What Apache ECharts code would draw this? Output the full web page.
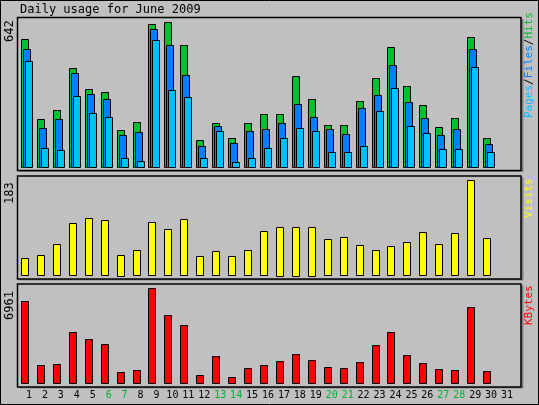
<!DOCTYPE html>
<html><head><meta charset="utf-8">
<script src="https://cdn.jsdelivr.net/npm/echarts@6/dist/echarts.min.js"></script>
<style>html,body{margin:0;padding:0;background:#c0c0c0}#c{width:539px;height:405px}</style>
</head><body><div id="c"></div>
<script>
const days = Array.from({length:31},(_,i)=>String(i+1));
const weekend = ['6','7','13','14','20','21','27','28'];
const hits  = [567,213,253,439,346,332,164,199,634,642,540,120,195,128,195,235,235,403,301,186,186,292,394,532,359,275,177,217,576,128,0];
const files = [523,173,213,416,323,301,142,155,611,540,408,93,182,106,160,168,195,279,222,168,146,261,319,452,288,217,142,168,523,102,0];
const pages = [470,84,75,315,239,222,40,27,563,341,310,40,159,22,40,84,128,173,160,66,66,93,248,350,182,151,80,80,443,66,0];
const visits= [33,39,60,100,110,106,40,48,102,89,108,37,46,37,48,85,94,94,94,69,73,58,48,56,64,83,60,81,183,71,0];
const kbytes= [6008,1319,1392,3737,3224,2857,806,952,6961,4982,4249,586,1978,440,1099,1319,1612,2125,1685,1172,1099,1538,2784,3737,2051,1465,1026,952,5568,879,0];
const maxLabels = ['642','183','6961'];

const font = 'DejaVu Sans Mono';
function barItem(off, w, color){
  return function(params, api){
    const v = api.value(1); if(!v) return;
    const top = api.coord([api.value(0), v]);
    const base = api.coord([api.value(0), 0]);
    return {type:'rect', shape:{x:Math.round(top[0]+off)+0.5, y:Math.round(top[1])+0.5, width:w, height:Math.round(base[1]-top[1])},
      style:{fill:color, stroke:'#000', lineWidth:1}};
  };
}
const grids = [
  {left:21,right:24,top:22.3,height:145},
  {left:21,right:24,top:180.3,height:95},
  {left:21,right:24,top:288.3,height:95}
];
const xAxes = grids.map((g,i)=>({type:'category',gridIndex:i,data:days,boundaryGap:true,
  axisLine:{show:false},axisTick:{show:false},
  axisLabel:{show:i===2,interval:0,margin:7,fontFamily:font,fontSize:10,
    color:(v)=>weekend.includes(v)?'#00b030':'#000'}}));
const yMax=[642,183,6961];
const yAxes = grids.map((g,i)=>({type:'value',gridIndex:i,min:0,max:yMax[i],show:false,splitLine:{show:false}}));
function ser(i,data,item){return {type:'custom',xAxisIndex:i,yAxisIndex:i,data:data.map((v,k)=>[k,v]),renderItem:item,silent:true};}
const series=[
  ser(0,hits,barItem(-8,7,'#00c030')),
  ser(0,files,barItem(-6,7,'#0080ff')),
  ser(0,pages,barItem(-4,7,'#00c0ff')),
  ser(1,visits,barItem(-8,7,'#ffff00')),
  ser(2,kbytes,barItem(-8,7,'#ff0000'))
];
function frame(y,h){return [
  {type:'rect',z:-1,shape:{x:19.5,y:y+1.5,width:504,height:h},style:{fill:'#808080'}},
  {type:'rect',z:-1,shape:{x:17.5,y:y,width:503.5,height:h},style:{fill:'#c0c0c0',stroke:'#000',lineWidth:1.5}}];}
const graphic=[
  {type:'rect',z:-2,shape:{x:0.5,y:0.5,width:538,height:404},style:{fill:'#c0c0c0',stroke:'#000',lineWidth:1}},
  ...frame(17.5,153),...frame(176,103),...frame(284,103),
  {type:'text',x:20,y:4,style:{text:'Daily usage for June 2009',font:'12px '+font,fill:'#000'}},
  {type:'text',x:4,y:42,rotation:Math.PI/2,style:{text:maxLabels[0],font:'12px '+font,fill:'#000'}},
  {type:'text',x:4,y:204,rotation:Math.PI/2,style:{text:maxLabels[1],font:'12px '+font,fill:'#000'}},
  {type:'text',x:4,y:320,rotation:Math.PI/2,style:{text:maxLabels[2],font:'12px '+font,fill:'#000'}},
  {type:'text',x:524,y:118,rotation:Math.PI/2,style:{text:'{p|Pages}{k|/}{f|Files}{k|/}{h|Hits}',font:'11px '+font,
    rich:{p:{fill:'#00c0ff',font:'11px '+font},f:{fill:'#0080ff',font:'11px '+font},h:{fill:'#00c030',font:'11px '+font},k:{fill:'#000',font:'11px '+font}}}},
  {type:'text',x:524,y:218,rotation:Math.PI/2,style:{text:'Visits',font:'11px '+font,fill:'#ffff00'}},
  {type:'text',x:524,y:325,rotation:Math.PI/2,style:{text:'KBytes',font:'11px '+font,fill:'#ff0000'}}
];
const chart=echarts.init(document.getElementById('c'));
chart.setOption({animation:false,backgroundColor:'#c0c0c0',grid:grids,xAxis:xAxes,yAxis:yAxes,series,graphic});
</script></body></html>
